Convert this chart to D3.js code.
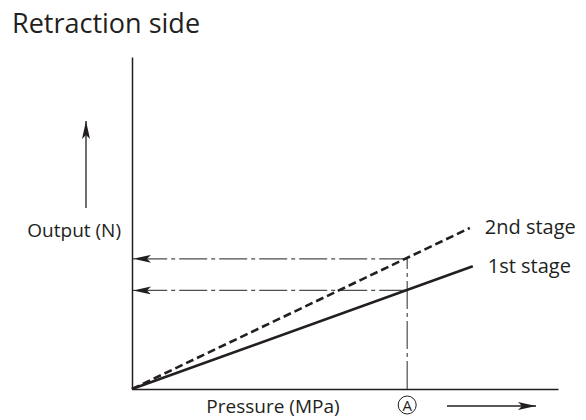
<!DOCTYPE html>
<html>
<head>
<meta charset="utf-8">
<script src="https://cdn.jsdelivr.net/npm/d3@7"></script>
<style>
  body { margin: 0; background: #fff; }
  svg text { font-family: "Open Sans", "Noto Sans", sans-serif; fill: #231f20; }
</style>
</head>
<body>
<div id="chart"></div>
<script>
// Retraction side — output vs pressure, two stages (schematic, no ticks)

const title      = 'Retraction side';
const xLabel     = 'Pressure (MPa)';
const yLabel     = 'Output (N)';
const stageNames = ['1st stage', '2nd stage'];
// each stage: straight line from origin to end point [pressure, output]
const stage1     = [[0, 0], [8.0, 3.70]];
const stage2     = [[0, 0], [7.93, 4.85]];
const pressureA  = 6.46;
const outputAtA  = [2.97, 3.92];   // read-off of each stage at A

const W = 586, H = 420;
const margin = { top: 57, right: 28, bottom: 31, left: 132 };

const svg = d3.select('#chart').append('svg')
  .attr('width', W).attr('height', H);

const x = d3.scaleLinear().domain([0, 10]).range([margin.left, W - margin.right]);
const y = d3.scaleLinear().domain([0, 10]).range([H - margin.bottom, margin.top]);

// arrowhead marker
const defs = svg.append('defs');
defs.append('marker')
  .attr('id', 'arr')
  .attr('viewBox', '0 0 18 8')
  .attr('refX', 18).attr('refY', 4)
  .attr('markerWidth', 18).attr('markerHeight', 8)
  .attr('markerUnits', 'userSpaceOnUse')
  .attr('orient', 'auto')
  .append('path').attr('d', 'M0,0 L18,4 L0,8 L4,4 Z').attr('fill', '#231f20');

// title
svg.append('text').attr('x', 12).attr('y', 33)
  .style('font-size', '27px').text(title);

// axes (plain lines, no ticks)
const axisX = d3.axisBottom(x).tickValues([]).tickSizeOuter(0);
const axisY = d3.axisLeft(y).tickValues([]).tickSizeOuter(0);
svg.append('g').attr('transform', `translate(0,${y(0)})`).call(axisX)
  .select('.domain').attr('stroke', '#231f20').attr('stroke-width', 1.5);
svg.append('g').attr('transform', `translate(${x(0)},0)`).call(axisY)
  .select('.domain').attr('stroke', '#231f20').attr('stroke-width', 1.5);

// dash-dot guides from A
const guide = svg.append('g')
  .attr('stroke', '#4d4d4f').attr('stroke-width', 1.2)
  .attr('stroke-dasharray', '28 4 4 4').attr('fill', 'none');
guide.append('line')
  .attr('x1', x(pressureA)).attr('x2', x(pressureA))
  .attr('y1', y(0)).attr('y2', y(outputAtA[1]));
outputAtA.forEach(v => {
  guide.append('line')
    .attr('x1', x(pressureA)).attr('x2', x(0) + 1)
    .attr('y1', y(v)).attr('y2', y(v))
    .attr('marker-end', 'url(#arr)');
});

// stage lines
const line = d3.line().x(d => x(d[0])).y(d => y(d[1]));
svg.append('path').datum(stage1).attr('d', line)
  .attr('fill', 'none').attr('stroke', '#231f20').attr('stroke-width', 2.6);
svg.append('path').datum(stage2).attr('d', line)
  .attr('fill', 'none').attr('stroke', '#231f20').attr('stroke-width', 2.6)
  .attr('stroke-dasharray', '8 4');

// stage labels
svg.append('text').attr('x', x(stage1[1][0]) + 15).attr('y', y(stage1[1][1]) + 7)
  .style('font-size', '20px').text(stageNames[0]);
svg.append('text').attr('x', x(stage2[1][0]) + 15).attr('y', y(stage2[1][1]) + 6)
  .style('font-size', '20px').text(stageNames[1]);

// axis labels
svg.append('text').attr('x', 121).attr('y', 237).attr('text-anchor', 'end')
  .style('font-size', '19px').text(yLabel);
svg.append('text').attr('x', 273).attr('y', 413).attr('text-anchor', 'middle')
  .style('font-size', '19px').text(xLabel);

// direction arrows
svg.append('line').attr('x1', 86).attr('x2', 86).attr('y1', 208).attr('y2', 121)
  .attr('stroke', '#231f20').attr('stroke-width', 1.3).attr('marker-end', 'url(#arr)');
svg.append('line').attr('x1', 447).attr('x2', 536).attr('y1', 406).attr('y2', 406)
  .attr('stroke', '#231f20').attr('stroke-width', 1.3).attr('marker-end', 'url(#arr)');

// circled A
svg.append('circle').attr('cx', x(pressureA)).attr('cy', 405).attr('r', 9)
  .attr('fill', 'none').attr('stroke', '#231f20').attr('stroke-width', 1);
svg.append('text').attr('x', x(pressureA)).attr('y', 410.5).attr('text-anchor', 'middle')
  .style('font-size', '15px').text('A');
</script>
</body>
</html>
